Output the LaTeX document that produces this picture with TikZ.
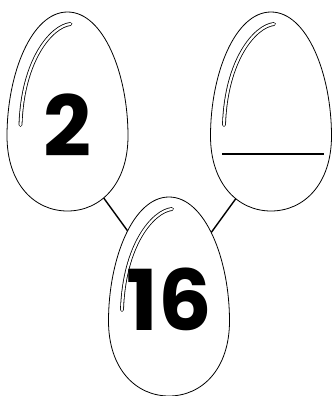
\documentclass[tikz,border=0pt]{standalone}
\usepackage{fontspec}
\newfontfamily\numfont{Poppins}
\tikzset{
  eggline/.style={draw=black, line width=0.8pt, fill=white},
  shine/.style={draw=black, line width=0.8pt, double=white, double distance=2.2pt, line cap=round},
  link/.style={draw=black, line width=1.4pt},
  numtext/.style={font=\numfont\bfseries\fontsize{84}{84}\selectfont, inner sep=0pt},
  blank/.style={draw=black, line width=1.4pt}
}
\newcommand\myegg[2]{%
  % #1 = centre x, #2 = top y ; width 121, height 199
  \path[eggline] (#1,#2)
    .. controls ({#1+36},#2) and ({#1+60.5},{#2+62}) .. ({#1+60.5},{#2+124})
    .. controls ({#1+60.5},{#2+172}) and ({#1+33},{#2+199}) .. (#1,{#2+199})
    .. controls ({#1-33},{#2+199}) and ({#1-60.5},{#2+172}) .. ({#1-60.5},{#2+124})
    .. controls ({#1-60.5},{#2+62}) and ({#1-36},#2) .. (#1,#2) -- cycle;
  \draw[shine] ({#1-47},{#2+113}) .. controls ({#1-45},{#2+48}) and ({#1-16},{#2+14}) .. ({#1+3},{#2+12});
}
\begin{document}
\begin{tikzpicture}[x=1pt,y=-1pt]
\useasboundingbox (0,0) rectangle (332,396);
% connector end points
\coordinate (la) at (95,186);
\coordinate (lb) at (140,248);
\coordinate (ra) at (245,186);
\coordinate (rb) at (200,248);
\draw[link] (la) -- (lb);
\draw[link] (ra) -- (rb);
% eggs
\myegg{67.5}{12}
\myegg{271}{12}
\myegg{169}{197}
% contents
\node[numtext] (two) at (67,125) {2};
\coordinate (bl) at (222,154);
\coordinate (br) at (324,154);
\draw[blank] (bl) -- (br);
\node[numtext] (sixteen) at (169,299) {16};
\end{tikzpicture}
\end{document}
